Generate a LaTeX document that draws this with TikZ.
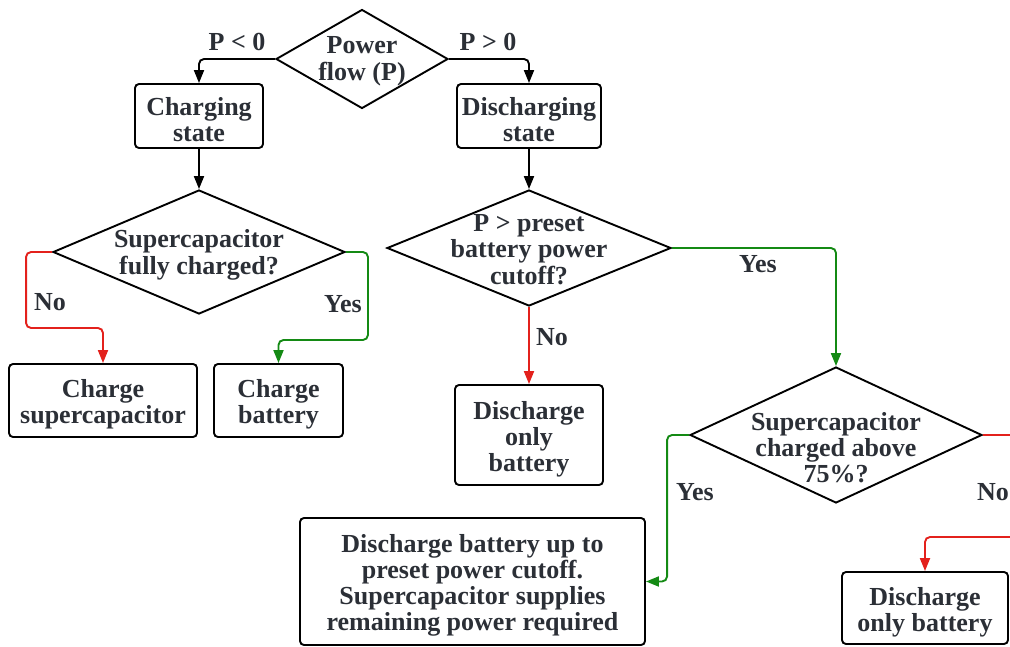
\documentclass[tikz,border=0pt]{standalone}
\usepackage{fontspec}
\setmainfont{Liberation Serif}
\usetikzlibrary{arrows.meta, shapes.geometric, positioning}

\definecolor{inkgray}{HTML}{2B2F36}
\definecolor{nored}{HTML}{E3211C}
\definecolor{yesgreen}{HTML}{148A14}

% diamond text: smashed so the diamond keeps its own size
\newcommand{\dtext}[2][-8pt]{\smash{\raisebox{#1}{\begin{tabular}{@{}c@{}}#2\end{tabular}}}}
% taller first line in the boxes
\newcommand{\tstrut}{\rule{0pt}{26pt}}

\begin{document}
\begin{tikzpicture}[x=1pt, y=-1pt, >={Triangle[length=13pt,width=10pt]},
    font=\fontsize{26}{26}\selectfont\bfseries, text=inkgray, line width=1.9pt]
  \tikzset{
    state/.style={draw=black, rounded corners=4pt, align=center, inner sep=2pt},
    decision/.style={draw=black, diamond, aspect=2.5, inner sep=0pt},
    flow/.style={->, rounded corners=5pt},
    yesflow/.style={flow, draw=yesgreen},
    noflow/.style={flow, draw=nored},
    lbl/.style={inner sep=0pt},
  }
  \useasboundingbox (0,0) rectangle (1010,646);
  \clip (0,0) rectangle (1010,646);

  \node[decision, minimum width=172pt, minimum height=99pt] (pf) at (362,59)
    {\dtext[-9pt]{Power\\flow (P)}};
  \node[state, minimum width=128pt, minimum height=64pt] (chg) at (199,116)
    {\tstrut Charging\\state};
  \node[state, minimum width=144pt, minimum height=64pt] (dis) at (529,116)
    {\tstrut Discharging\\state};

  \node[decision, minimum width=292pt, minimum height=124pt] (scf) at (199,252)
    {\dtext[-10pt]{Supercapacitor\\fully charged?}};
  \node[decision, minimum width=284pt, minimum height=116pt] (pcut) at (529,248)
    {\dtext[-11pt]{P > preset\\battery power\\cutoff?}};

  \node[state, minimum width=188pt, minimum height=73pt] (chsc) at (103,400.5)
    {\tstrut Charge\\supercapacitor};
  \node[state, minimum width=129pt, minimum height=73pt] (chbat) at (278.5,400.5)
    {\tstrut Charge\\battery};
  \node[state, minimum width=148pt, minimum height=100pt] (dbat) at (529,435)
    {\tstrut Discharge\\only\\battery};

  \node[decision, minimum width=292pt, minimum height=136pt] (sc75) at (836,435)
    {\dtext[-23pt]{Supercapacitor\\charged above\\75\%?}};
  \node[state, minimum width=345pt, minimum height=127pt] (dsplit) at (472.5,581.5)
    {\tstrut Discharge battery up to\\preset power cutoff.\\Supercapacitor supplies\\remaining power required};
  \node[state, minimum width=166pt, minimum height=72pt] (dbat2) at (925,608)
    {\tstrut Discharge\\only battery};

  % power flow split
  \draw[flow] (pf.west) -| (chg.north) node[lbl] (pneg) at (237,42) {P < 0};
  \draw[flow] (pf.east) -| (dis.north) node[lbl] (ppos) at (488,42) {P > 0};
  \draw[flow] (chg.south) -- (scf.north);
  \draw[flow] (dis.south) -- (pcut.north);

  % charging branch
  \draw[noflow] (scf.west) -- ++(-26,0) -- ++(0,76) -| (chsc.north)
    node[lbl] (no1) at (50,302) {No};
  \draw[yesflow] (scf.east) -- ++(22,0) -- ++(0,88) -| (chbat.north)
    node[lbl] (yes1) at (343,304) {Yes};

  % discharging branch
  \draw[noflow] (pcut.south) -- (dbat.north) node[lbl] (no2) at (552,337) {No};
  \draw[yesflow] (pcut.east) -| (sc75.north) node[lbl] (yes2) at (758,264) {Yes};
  \draw[yesflow] (sc75.west) -- ++(-22,0) |- (dsplit.east)
    node[lbl] (yes3) at (695,492) {Yes};
  \draw[noflow] (sc75.east) -- ++(50,0) -- ++(0,102) -| (dbat2.north)
    node[lbl] (no3) at (993,492) {No};
\end{tikzpicture}
\end{document}
